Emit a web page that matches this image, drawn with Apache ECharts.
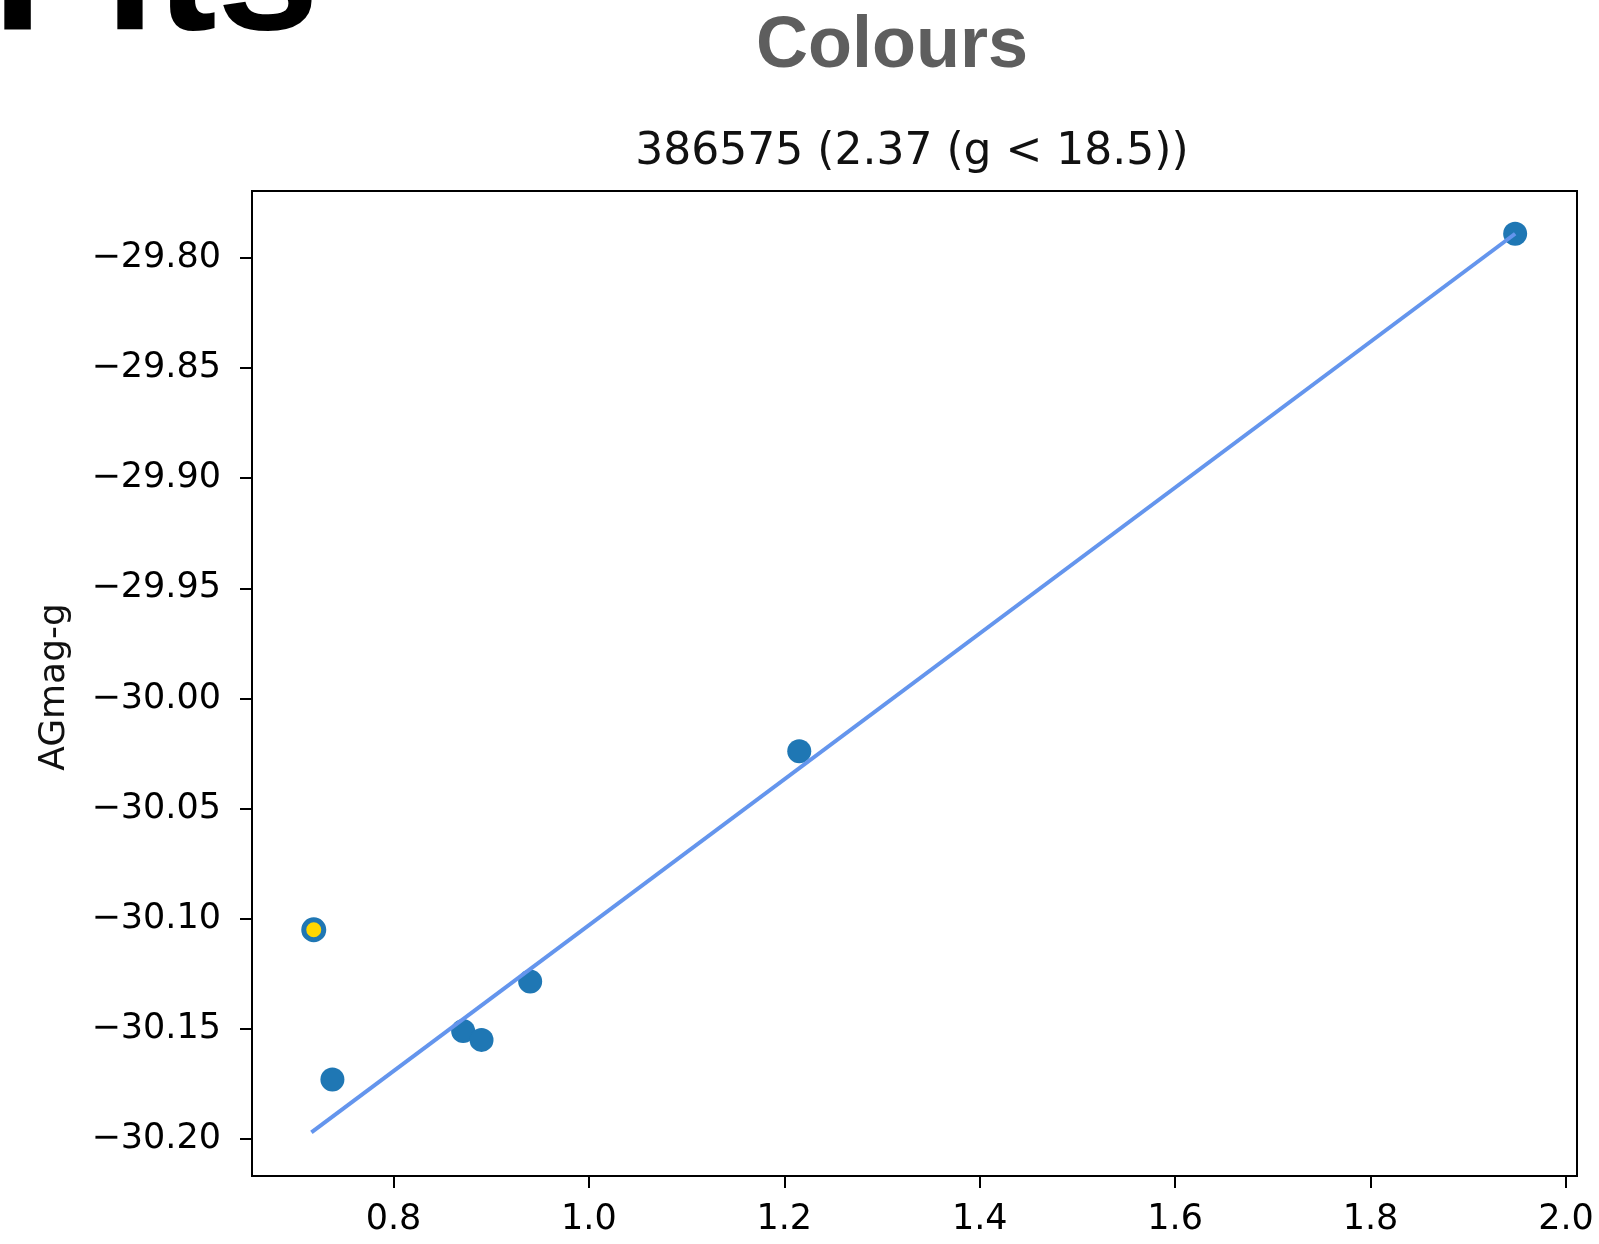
<!DOCTYPE html>
<html>
<head>
<meta charset="utf-8">
<script src="https://cdn.jsdelivr.net/npm/echarts@6/dist/echarts.min.js"></script>
<style>
html,body{margin:0;padding:0;background:#fff;}
#chart{width:1599px;height:1244px;}
</style>
</head>
<body>
<div id="chart"></div>
<script>
// Data
var colourX = [0.7375, 0.8713, 0.8901, 0.9399, 1.2153, 1.948];
var agmagY  = [-30.173, -30.151, -30.155, -30.1285, -30.024, -29.789];
var highlightX = [0.7184];
var highlightY = [-30.105];
var fitX = [0.716, 1.948];
var fitY = [-30.197, -29.789];
var xTicks = [0.8, 1.0, 1.2, 1.4, 1.6, 1.8, 2.0];
var yTicks = [-30.20, -30.15, -30.10, -30.05, -30.00, -29.95, -29.90, -29.85, -29.80];

var zip = function (a, b) { return a.map(function (v, i) { return [v, b[i]]; }); };

var chart = echarts.init(document.getElementById('chart'), null, {renderer: 'canvas'});
var axisFont = 'DejaVu Sans';
chart.setOption({
  animation: false,
  backgroundColor: '#ffffff',
  grid: {
    left: 252, top: 191, right: 22, bottom: 68,
    show: true, borderColor: '#000', borderWidth: 2, backgroundColor: 'transparent'
  },
  xAxis: {
    type: 'value', min: 0.6552, max: 2.0113,
    axisLine: {show: true, onZero: false, lineStyle: {color: '#000', width: 2}},
    axisTick: {show: true, length: 12, inside: false, lineStyle: {color: '#000', width: 2}, customValues: xTicks},
    axisLabel: {show: true, margin: 26, fontSize: 35, fontFamily: axisFont, color: '#000',
      customValues: xTicks, formatter: function (v) { return v.toFixed(1); }},
    splitLine: {show: false}
  },
  yAxis: {
    type: 'value', min: -30.2168, max: -29.7696,
    axisLine: {show: true, onZero: false, lineStyle: {color: '#000', width: 2}},
    axisTick: {show: true, length: 12, inside: false, lineStyle: {color: '#000', width: 2}, customValues: yTicks},
    axisLabel: {show: true, margin: 31, fontSize: 35, fontFamily: axisFont, color: '#000',
      customValues: yTicks,
      formatter: function (v) { return (v < 0 ? '\u2212' : '') + Math.abs(v).toFixed(2); }},
    splitLine: {show: false}
  },
  graphic: [
    {type: 'text', x: -8, y: -22, z: 100,
      style: {text: 'Fits', font: 'bold 184px "Liberation Sans"', fill: '#000', textAlign: 'left', textVerticalAlign: 'middle'}},
    {type: 'text', x: 892, y: 47, z: 100,
      style: {text: 'Colours', font: 'bold 72px "Liberation Sans"', fill: '#5e5e5e', textAlign: 'center', textVerticalAlign: 'middle'}},
    {type: 'text', x: 912, y: 153, z: 100,
      style: {text: '386575 (2.37 (g < 18.5))', font: '44px "DejaVu Sans"', fill: '#111', textAlign: 'center', textVerticalAlign: 'middle'}},
    {type: 'text', x: 55, y: 687, rotation: Math.PI / 2, z: 100,
      style: {text: 'AGmag-g', font: '36px "DejaVu Sans"', fill: '#111', textAlign: 'center', textVerticalAlign: 'middle'}}
  ],
  series: [
    {type: 'scatter', data: zip(colourX, agmagY), symbol: 'circle', symbolSize: 24,
      itemStyle: {color: '#1f77b4', opacity: 1}, z: 2},
    {type: 'scatter', data: zip(highlightX, highlightY), symbol: 'circle', symbolSize: 20,
      itemStyle: {color: '#FFD700', borderColor: '#1f77b4', borderWidth: 5, opacity: 1}, z: 3},
    {type: 'line', data: zip(fitX, fitY), showSymbol: false, symbol: 'none',
      lineStyle: {color: '#6495ED', width: 4}, z: 4}
  ]
});
</script>
</body>
</html>
